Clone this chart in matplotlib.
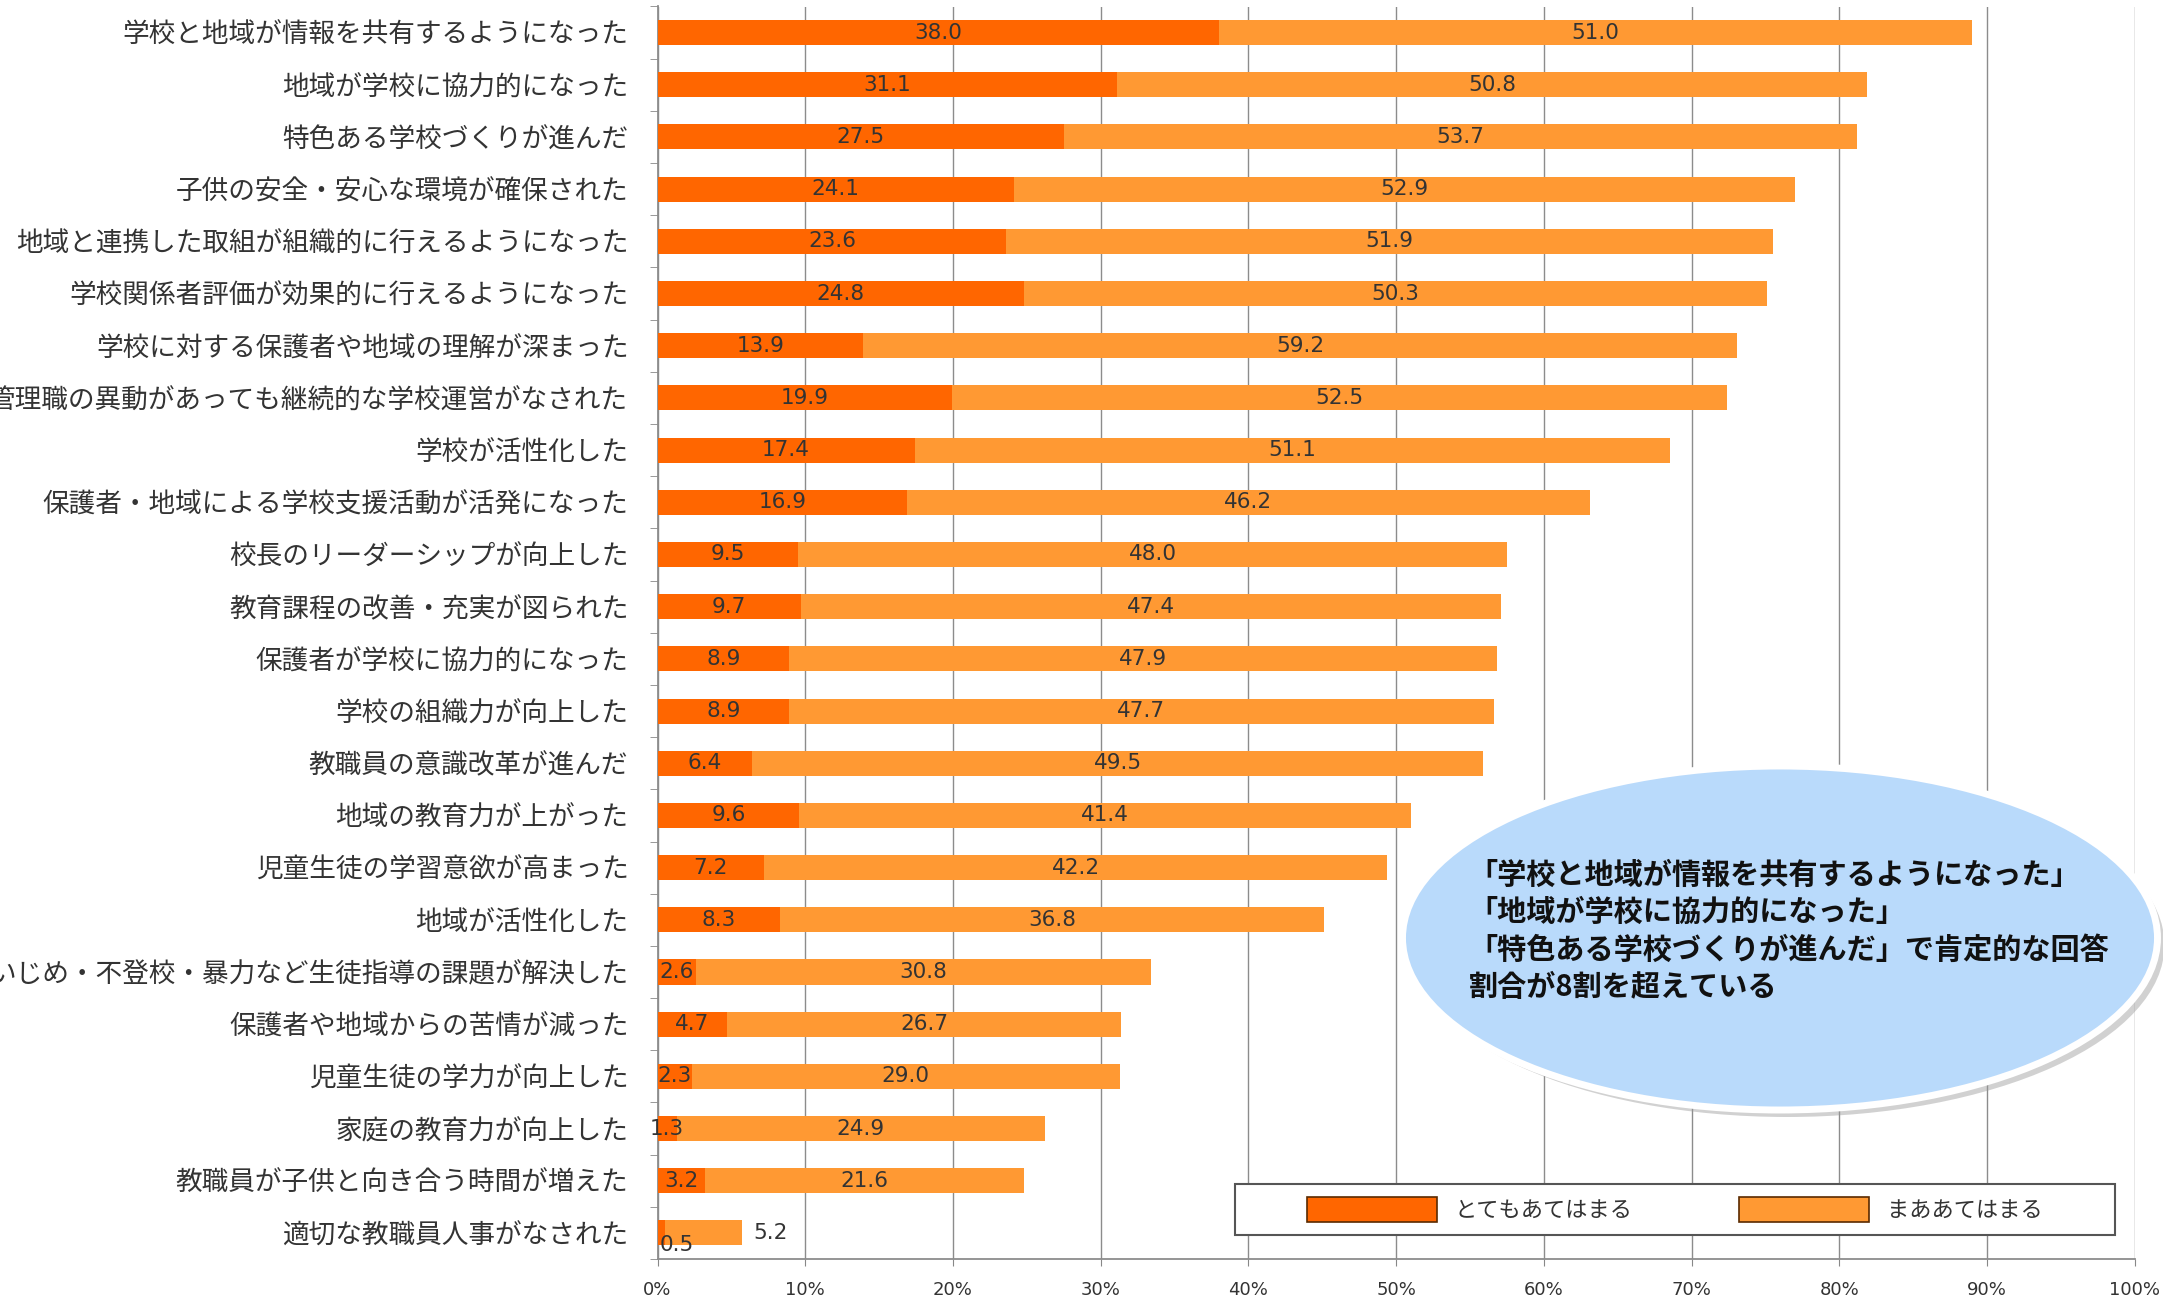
import matplotlib
matplotlib.use('Agg')
import matplotlib.pyplot as plt
from matplotlib.patches import Ellipse, Patch, Rectangle
import numpy as np

plt.rcParams['font.family'] = ['Noto Sans CJK JP', 'DejaVu Sans']

# ── data ────────────────────────────────────────────────────────────────
items = [
    '学校と地域が情報を共有するようになった',
    '地域が学校に協力的になった',
    '特色ある学校づくりが進んだ',
    '子供の安全・安心な環境が確保された',
    '地域と連携した取組が組織的に行えるようになった',
    '学校関係者評価が効果的に行えるようになった',
    '学校に対する保護者や地域の理解が深まった',
    '管理職の異動があっても継続的な学校運営がなされた',
    '学校が活性化した',
    '保護者・地域による学校支援活動が活発になった',
    '校長のリーダーシップが向上した',
    '教育課程の改善・充実が図られた',
    '保護者が学校に協力的になった',
    '学校の組織力が向上した',
    '教職員の意識改革が進んだ',
    '地域の教育力が上がった',
    '児童生徒の学習意欲が高まった',
    '地域が活性化した',
    'いじめ・不登校・暴力など生徒指導の課題が解決した',
    '保護者や地域からの苦情が減った',
    '児童生徒の学力が向上した',
    '家庭の教育力が向上した',
    '教職員が子供と向き合う時間が増えた',
    '適切な教職員人事がなされた',
]
very_true = [38.0, 31.1, 27.5, 24.1, 23.6, 24.8, 13.9, 19.9, 17.4, 16.9, 9.5, 9.7,
             8.9, 8.9, 6.4, 9.6, 7.2, 8.3, 2.6, 4.7, 2.3, 1.3, 3.2, 0.5]
fairly_true = [51.0, 50.8, 53.7, 52.9, 51.9, 50.3, 59.2, 52.5, 51.1, 46.2, 48.0, 47.4,
               47.9, 47.7, 49.5, 41.4, 42.2, 36.8, 30.8, 26.7, 29.0, 24.9, 21.6, 5.2]
series_names = ['とてもあてはまる', 'まああてはまる']
xticks = [0, 10, 20, 30, 40, 50, 60, 70, 80, 90, 100]
note = ('「学校と地域が情報を共有するようになった」\n'
        '「地域が学校に協力的になった」\n'
        '「特色ある学校づくりが進んだ」で肯定的な回答\n'
        '割合が8割を超えている')

c_dark = '#FF6600'
c_light = '#FF9933'
txt = '#333333'

fig = plt.figure(figsize=(21.63, 13.0), dpi=100)
ax = fig.add_axes([0.304, 0.0315, 0.683, 0.9635])

y = np.arange(len(items))
vt = np.array(very_true)
ft = np.array(fairly_true)
h = 0.48
ax.barh(y, vt, height=h, color=c_dark, zorder=3)
ax.barh(y, ft, left=vt, height=h, color=c_light, zorder=3)

# value labels (Excel style: centred in each segment)
num_font = dict(fontsize=15.5, color=txt, family='DejaVu Sans', zorder=4)
for i in range(len(items)):
    if vt[i] < 1:
        ax.text(1.3, y[i] + 0.23, f'{vt[i]:.1f}', ha='center', va='center', **num_font)
    else:
        ax.text(vt[i] / 2, y[i], f'{vt[i]:.1f}', ha='center', va='center', **num_font)
    if ft[i] < 8:
        ax.text(vt[i] + ft[i] + 0.8, y[i], f'{ft[i]:.1f}', ha='left', va='center', **num_font)
    else:
        ax.text(vt[i] + ft[i] / 2, y[i], f'{ft[i]:.1f}', ha='center', va='center', **num_font)

ax.set_xlim(0, 100)
ax.set_ylim(len(items) - 0.5, -0.5)
ax.set_yticks(y)
ax.set_yticklabels(items, fontsize=19.2, color=txt)
ax.set_yticks(np.arange(-0.5, len(items), 1), minor=True)
ax.tick_params(axis='y', which='major', length=0, pad=21)
ax.tick_params(axis='y', which='minor', length=6, color='#888888', direction='out')
ax.set_xticks(xticks)
ax.set_xticklabels([f'{t}%' for t in xticks], fontsize=13, color=txt, family='DejaVu Sans')
ax.tick_params(axis='x', length=5, color='#888888', pad=11)

ax.xaxis.grid(True, color='#8c8c8c', linewidth=1.0, zorder=0)
ax.set_axisbelow(True)
for s in ['top', 'right']:
    ax.spines[s].set_visible(False)
for s in ['left', 'bottom']:
    ax.spines[s].set_color('#8c8c8c')
    ax.spines[s].set_linewidth(1.3)

# legend: frame drawn separately so the entries stay centred
frame = Rectangle((0.5708, 0.0499), 0.4069, 0.0393, transform=fig.transFigure,
                  facecolor='white', edgecolor='#555555', linewidth=1.5, zorder=5)
fig.patches.append(frame)
handles = [Patch(facecolor=c_dark, edgecolor='#5a2a00', linewidth=1.2),
           Patch(facecolor=c_light, edgecolor='#5a2a00', linewidth=1.2)]
leg = fig.legend(handles, series_names, loc='center', ncol=2,
                 bbox_to_anchor=(0.7742, 0.0695), fontsize=16, frameon=False,
                 handlelength=5.85, handleheight=1.35, columnspacing=4.8,
                 handletextpad=0.8, labelcolor=txt)
leg.set_zorder(6)

# callout ellipse
tr = fig.dpi_scale_trans
shadow = Ellipse((17.87, 3.55), 7.55, 3.44, transform=tr, facecolor='#9a9a9a',
                 edgecolor='none', alpha=0.45, zorder=8)
fig.patches.append(shadow)
ell = Ellipse((17.80, 3.62), 7.55, 3.44, transform=tr, facecolor='#B9DAFB',
              edgecolor='white', linewidth=5, zorder=9)
fig.patches.append(ell)
fig.text(0.679, 0.284, note, fontsize=21, fontweight='bold', color='#111111',
         ha='left', va='center', linespacing=1.3, zorder=10)

fig.savefig('out.png', dpi=100, facecolor='white')
